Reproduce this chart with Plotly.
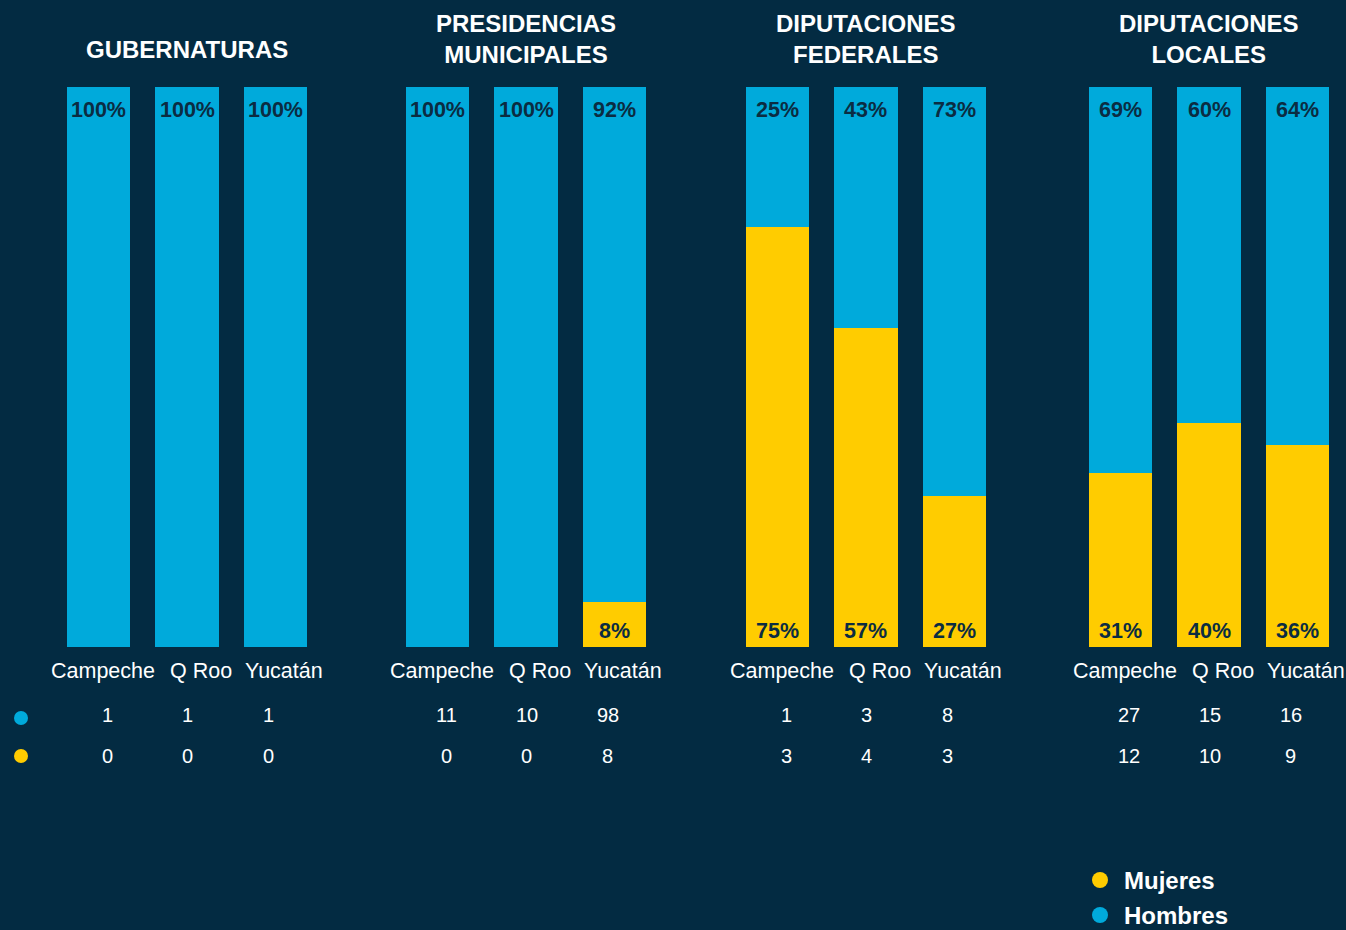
import plotly.graph_objects as go

# ---- data ----
groups = ["GUBERNATURAS", "PRESIDENCIAS<br>MUNICIPALES", "DIPUTACIONES<br>FEDERALES", "DIPUTACIONES<br>LOCALES"]
states = ["Campeche", "Q Roo", "Yucatán"]
mujeres_pct = [[0, 0, 0], [0, 0, 8], [75, 57, 27], [31, 40, 36]]
hombres_pct = [[100, 100, 100], [100, 100, 92], [25, 43, 73], [69, 60, 64]]
hombres_n = [[1, 1, 1], [11, 10, 98], [1, 3, 8], [27, 15, 16]]
mujeres_n = [[0, 0, 0], [0, 0, 8], [3, 4, 3], [12, 10, 9]]
legend_names = ["Mujeres", "Hombres"]

# ---- style ----
W, H = 1346, 930
BG = "#032b42"
CYAN = "#00aadb"
YELLOW = "#ffcc00"
DARK = "#0b2c42"
FONT = "Liberation Sans"

group_left_px = [54.25, 393.25, 733.25, 1076.25]
group_w_px = 265.5
bar_bottom_px, bar_top_px = 647, 87
ydom = [1 - bar_bottom_px / H, 1 - bar_top_px / H]

fig = go.Figure()
layout = dict(
    width=W, height=H, paper_bgcolor=BG, plot_bgcolor=BG,
    margin=dict(l=0, r=0, t=0, b=0, autoexpand=False),
    barmode="stack", bargap=0.288,
    font=dict(family=FONT, color="white"),
    showlegend=False,
)
annotations = []
shapes = []

for i, g in enumerate(groups):
    k = "" if i == 0 else str(i + 1)
    xa, ya = "x" + k, "y" + k
    d0 = group_left_px[i] / W
    d1 = (group_left_px[i] + group_w_px) / W
    layout["xaxis" + k] = dict(domain=[d0, d1], anchor=ya, type="category",
                               categoryorder="array", categoryarray=states,
                               range=[-0.5, 2.5], showticklabels=False, fixedrange=True,
                               showgrid=False, zeroline=False, showline=False, ticks="")
    layout["yaxis" + k] = dict(domain=ydom, anchor=xa, range=[0, 100], visible=False, fixedrange=True)

    fig.add_trace(go.Bar(
        x=states, y=mujeres_pct[i], xaxis=xa, yaxis=ya, name=legend_names[0],
        marker=dict(color=YELLOW, line=dict(width=0)), hoverinfo="skip"))
    fig.add_trace(go.Bar(
        x=states, y=hombres_pct[i], xaxis=xa, yaxis=ya, name=legend_names[1],
        marker=dict(color=CYAN, line=dict(width=0)), hoverinfo="skip"))

    # percentage labels (anchored to bar data coordinates)
    for j, s in enumerate(states):
        m, h = mujeres_pct[i][j], hombres_pct[i][j]
        if h > 0:
            annotations.append(dict(text=f"<b>{h}%</b>", xref=xa, yref=ya, x=s, y=m + h,
                                    yshift=-23, xanchor="center", yanchor="middle", showarrow=False,
                                    font=dict(size=21.5, color=DARK, family=FONT)))
        if m > 0:
            annotations.append(dict(text=f"<b>{m}%</b>", xref=xa, yref=ya, x=s, y=0,
                                    yshift=16, xanchor="center", yanchor="middle", showarrow=False,
                                    font=dict(size=21.5, color=DARK, family=FONT)))

    # title
    nlines = g.count("<br>") + 1
    ty = 50 if nlines == 1 else 39
    annotations.append(dict(text=f"<b>{g}</b>", xref=xa + " domain", yref="paper",
                            x=0.5, y=1 - ty / H, xanchor="center", yanchor="middle",
                            showarrow=False, font=dict(size=24, color="white", family=FONT)))
    # category labels and counts
    for j, s in enumerate(states):
        annotations.append(dict(text=s, xref=xa + " domain", yref="paper",
                                x=[0.183, 0.552, 0.866][j], y=1 - 671 / H,
                                xanchor="center", yanchor="middle", showarrow=False,
                                font=dict(size=21.5, color="white", family=FONT)))
        annotations.append(dict(text=str(hombres_n[i][j]), xref=xa + " domain", yref="paper",
                                x=[0.199, 0.503, 0.807][j], y=1 - 715 / H,
                                xanchor="center", yanchor="middle", showarrow=False,
                                font=dict(size=20, color="white", family=FONT)))
        annotations.append(dict(text=str(mujeres_n[i][j]), xref=xa + " domain", yref="paper",
                                x=[0.199, 0.503, 0.807][j], y=1 - 756 / H,
                                xanchor="center", yanchor="middle", showarrow=False,
                                font=dict(size=20, color="white", family=FONT)))

# row marker dots
for cy, col in [(718, CYAN), (756, YELLOW)]:
    shapes.append(dict(type="circle", xref="paper", yref="paper",
                       x0=14 / W, x1=28 / W, y0=1 - (cy + 7) / H, y1=1 - (cy - 7) / H,
                       fillcolor=col, line=dict(width=0)))

# legend (drawn manually so it can sit at the very bottom edge)
for name, cy, col in [(legend_names[0], 880, YELLOW), (legend_names[1], 915, CYAN)]:
    shapes.append(dict(type="circle", xref="paper", yref="paper",
                       x0=1092 / W, x1=1108 / W, y0=1 - (cy + 8) / H, y1=1 - (cy - 8) / H,
                       fillcolor=col, line=dict(width=0)))
    annotations.append(dict(text=f"<b>{name}</b>", xref="paper", yref="paper",
                            x=1122 / W, y=1 - cy / H, xanchor="left", yanchor="middle",
                            showarrow=False, font=dict(size=24, color="white", family=FONT)))

layout["annotations"] = annotations
layout["shapes"] = shapes
fig.update_layout(**layout)

fig.write_html("out.html", config={"displayModeBar": False, "staticPlot": True},
               post_script="document.body.style.margin='0';document.body.style.overflow='hidden';")
